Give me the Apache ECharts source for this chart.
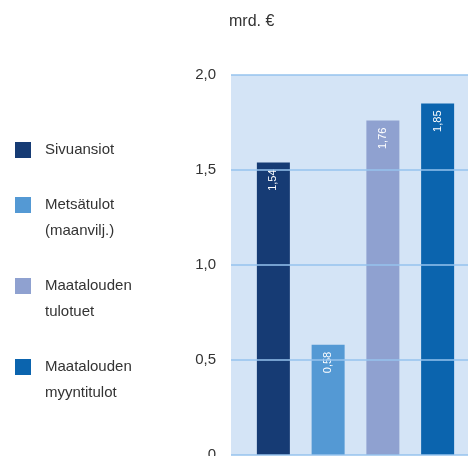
<!DOCTYPE html>
<html>
<head>
<meta charset="utf-8">
<script src="https://cdn.jsdelivr.net/npm/echarts@6/dist/echarts.min.js"></script>
<style>
  html, body { margin: 0; padding: 0; background: #fff; }
  #main { width: 468px; height: 456px; }
</style>
</head>
<body>
<div id="main"></div>
<script>
// data (mrd. €)
const categories = ['Sivuansiot', 'Metsätulot\n(maanvilj.)', 'Maatalouden\ntulotuet', 'Maatalouden\nmyyntitulot'];
const values = [1.54, 0.58, 1.76, 1.85];
const colors = ['#163b74', '#5499d4', '#8fa1d0', '#0b64ae'];

const FONT = '"Liberation Sans", Arial, sans-serif';

var myChart = echarts.init(document.getElementById('main'));

// one series per category so the legend gets its own entry, stacked so they sit centered
const series = categories.map((name, i) => ({
  name: name,
  type: 'bar',
  stack: 'all',
  xAxisIndex: 1,
  yAxisIndex: 1,
  barWidth: 33,
  itemStyle: { color: colors[i] },
  data: values.map((v, j) => (j === i ? v : '-')),
  label: {
    show: true,
    position: 'insideTop',
    distance: 7,
    rotate: 90,
    align: 'right',
    verticalAlign: 'middle',
    color: '#fff',
    fontSize: 11,
    fontFamily: FONT,
    formatter: p => p.value.toFixed(2).replace('.', ',')
  }
}));

var option = {
  animation: false,
  title: {
    text: 'mrd. €',
    left: 224,
    top: 9,
    textStyle: { fontSize: 16, fontWeight: 'normal', color: '#333', fontFamily: FONT }
  },
  legend: {
    orient: 'vertical',
    left: 10,
    top: 132,
    itemWidth: 16,
    itemHeight: 16,
    itemGap: 3,
    icon: 'rect',
    selectedMode: false,
    // leading blank line keeps the swatch level with the first text line
    formatter: name => (name.indexOf('\n') >= 0 ? '\n' + name : name),
    textStyle: { fontSize: 15, color: '#333', fontFamily: FONT, lineHeight: 26, padding: [0, 0, 0, 9] },
    data: categories
  },
  grid: [
    { left: 231, right: 0, top: 75, height: 380, show: true, backgroundColor: '#d4e4f6', borderWidth: 0, outerBoundsMode: 'none', containLabel: false },
    { left: 246, width: 219, top: 75, height: 380, outerBoundsMode: 'none', containLabel: false }
  ],
  xAxis: [
    { type: 'category', gridIndex: 0, show: false, data: categories },
    { type: 'category', gridIndex: 1, show: false, data: categories }
  ],
  yAxis: [
    {
      type: 'value', gridIndex: 0, min: 0, max: 2, interval: 0.5, z: 10,
      axisLine: { show: false }, axisTick: { show: false },
      axisLabel: {
        margin: 15, fontSize: 15, color: '#333', fontFamily: FONT,
        formatter: v => (v === 0 ? '0' : v.toFixed(1).replace('.', ','))
      },
      splitLine: { lineStyle: { color: 'rgba(150,195,238,0.75)', width: 2 } }
    },
    { type: 'value', gridIndex: 1, min: 0, max: 2, show: false }
  ],
  series: series
};

myChart.setOption(option);
</script>
</body>
</html>
